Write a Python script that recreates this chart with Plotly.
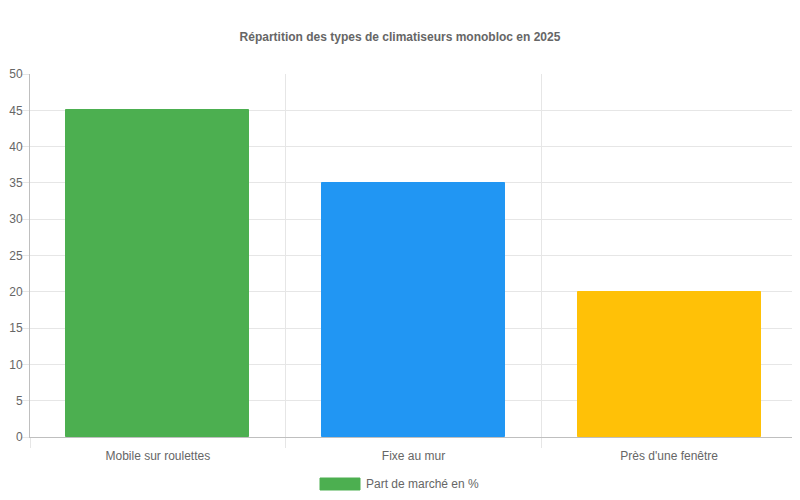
import plotly.graph_objects as go

categories = ["Mobile sur roulettes", "Fixe au mur", "Près d'une fenêtre"]
values = [45, 35, 20]
colors = ["#4CAF50", "#2196F3", "#FFC107"]
series_name = "Part de marché en %"
title = "Répartition des types de climatiseurs monobloc en 2025"

pos = list(range(len(categories)))
bounds = [i - 0.5 for i in range(len(categories) + 1)]

fig = go.Figure()
fig.add_trace(go.Bar(
    x=pos, y=values, name=series_name,
    marker=dict(color=colors, line=dict(color=colors, width=1)),
    width=0.715, showlegend=False, hoverinfo="y",
))
# invisible trace to activate overlay axis for category boundary grid
fig.add_trace(go.Scatter(x=[bounds[0], bounds[-1]], y=[0, 0], xaxis="x2",
                         mode="lines", line=dict(width=0), showlegend=False,
                         hoverinfo="skip"))

font_family = "Liberation Sans, Arial, sans-serif"
L, R, T, B = 22, 11, 66, 71
PW, PH = 800 - L - R, 500 - T - B
fig.update_layout(
    width=800, height=500,
    margin=dict(l=L, r=R, t=T, b=B),
    paper_bgcolor="white", plot_bgcolor="white",
    font=dict(family=font_family, size=12, color="#666666"),
    title=dict(text="<b>" + title + "</b>", x=392 / 800, xanchor="center",
               y=1 - 29 / 500, yanchor="middle", yref="container",
               font=dict(size=12, color="#666666", family=font_family)),
    xaxis=dict(range=[bounds[0], bounds[-1]], tickvals=pos, ticktext=categories,
               showgrid=False, zeroline=False, showline=True, linecolor="#bfbfbf",
               ticks="outside", ticklen=8, tickcolor="rgba(0,0,0,0)",
               tickfont=dict(size=12, color="#666666"), automargin=False),
    xaxis2=dict(range=[bounds[0], bounds[-1]], overlaying="x", side="bottom",
                tickvals=bounds, showticklabels=False, showgrid=True,
                gridcolor="#e6e6e6", gridwidth=1, zeroline=False,
                ticks="outside", ticklen=10, tickcolor="#e6e6e6", showline=False,
                automargin=False),
    yaxis=dict(range=[0, 50], dtick=5, showgrid=True, gridcolor="#e6e6e6",
               zeroline=False, showline=True, linecolor="#bfbfbf",
               ticks="outside", ticklen=8, tickcolor="#e6e6e6",
               ticklabelstandoff=-4,
               tickfont=dict(size=12, color="#666666"), automargin=False),
    bargap=0,
)

# legend drawn as in the reference (wide colour box + label)
fig.add_shape(type="rect", xref="paper", yref="paper",
              x0=(320 - 30) / PW, x1=(360 - 30) / PW,
              y0=(437 - 490) / PH, y1=(437 - 478) / PH,
              fillcolor=colors[0], line=dict(color=colors[0], width=1))
fig.add_annotation(text=series_name, xref="paper", yref="paper",
                   x=(364 - 30) / PW, y=(437 - 484) / PH,
                   xanchor="left", yanchor="middle", showarrow=False,
                   font=dict(size=12, color="#666666", family=font_family))

fig.write_html("out.html")
